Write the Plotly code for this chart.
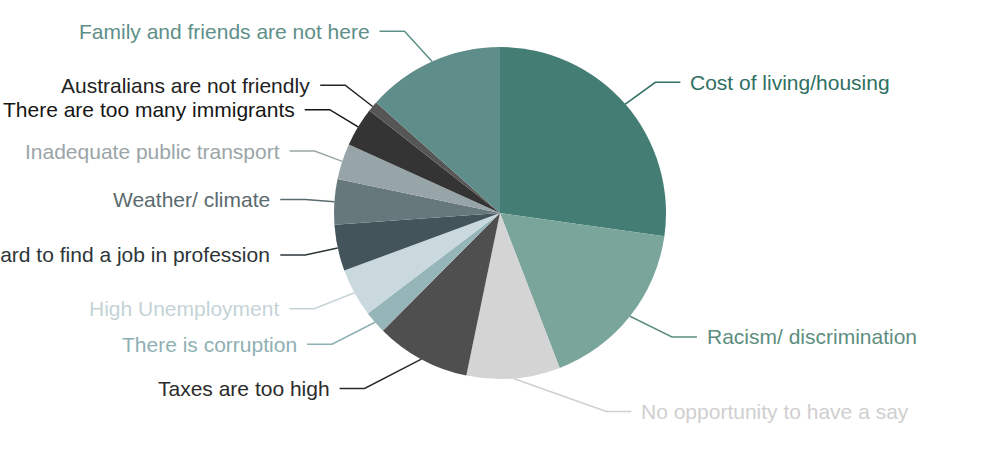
import math
import plotly.graph_objects as go

# ---- data ----
categories = [
    "Cost of living/housing",
    "Racism/ discrimination",
    "No opportunity to have a say",
    "Taxes are too high",
    "There is corruption",
    "High Unemployment",
    "Hard to find a job in profession",
    "Weather/ climate",
    "Inadequate public transport",
    "There are too many immigrants",
    "Australians are not friendly",
    "Family and friends are not here",
]
values = [27.2, 16.9, 9.1, 9.2, 2.2, 4.7, 4.5, 4.4, 3.5, 3.8, 1.0, 13.4]

# ---- styles ----
slice_colors = ["#437d74", "#79a59b", "#d4d4d4", "#4f4f4f", "#96b5b8", "#c9d9dd",
                "#43545a", "#67787c", "#97a5a8", "#343434", "#565656", "#5f8d89"]
label_colors = ["#2f6f62", "#5d8e80", "#cfcfcf", "#2b2b2b", "#8fb0b3", "#c5d3d7",
                "#2d3538", "#5b6a6e", "#9aa5a8", "#151515", "#222222", "#5e8f89"]
label_nudge = [5, 16, 90, 41, 18, 11, 0, -4, -4, 0, 2, 14]

W, H = 1000, 466
M_T, M_B = 47, 87
plot_h = H - M_T - M_B
r = plot_h / 2.0
cx, cy = W / 2.0, M_T + r
R = 1.2 * r


def px(x):
    return x / W


def py(y):
    return (H - M_B - y) / plot_h


fig = go.Figure(go.Pie(
    labels=categories, values=values, sort=False, direction="clockwise",
    rotation=0, textinfo="none", hoverinfo="label+percent",
    marker=dict(colors=slice_colors, line=dict(width=0)),
    showlegend=False,
))

shapes, annotations = [], []
total = sum(values)
cum = 0.0
for i, (lab, v) in enumerate(zip(categories, values)):
    mid = (cum + v / 2.0) / total * 2 * math.pi
    cum += v
    s = 1 if math.sin(mid) >= 0 else -1
    x0 = cx + r * math.sin(mid)
    y0 = cy - r * math.cos(mid)
    ey = cy - R * math.cos(mid)
    ex = cx + s * (R * abs(math.sin(mid)) + label_nudge[i])
    hx = ex + s * 25
    path = f"M {px(x0)},{py(y0)} L {px(ex)},{py(ey)} L {px(hx)},{py(ey)}"
    shapes.append(dict(type="path", xref="paper", yref="paper", path=path,
                       line=dict(color=label_colors[i], width=1.5)))
    annotations.append(dict(
        xref="paper", yref="paper", x=px(hx + s * 8), y=py(ey),
        xanchor="left" if s > 0 else "right", yanchor="middle",
        text=lab, showarrow=False,
        font=dict(family="Liberation Sans, Arial, sans-serif", size=21,
                  color=label_colors[i]),
    ))

fig.update_layout(
    width=W, height=H,
    margin=dict(l=0, r=0, t=M_T, b=M_B),
    paper_bgcolor="white", plot_bgcolor="white",
    shapes=shapes, annotations=annotations,
)

fig.write_html("out.html", config={"displayModeBar": False},
               post_script="document.body.style.margin='0';")
